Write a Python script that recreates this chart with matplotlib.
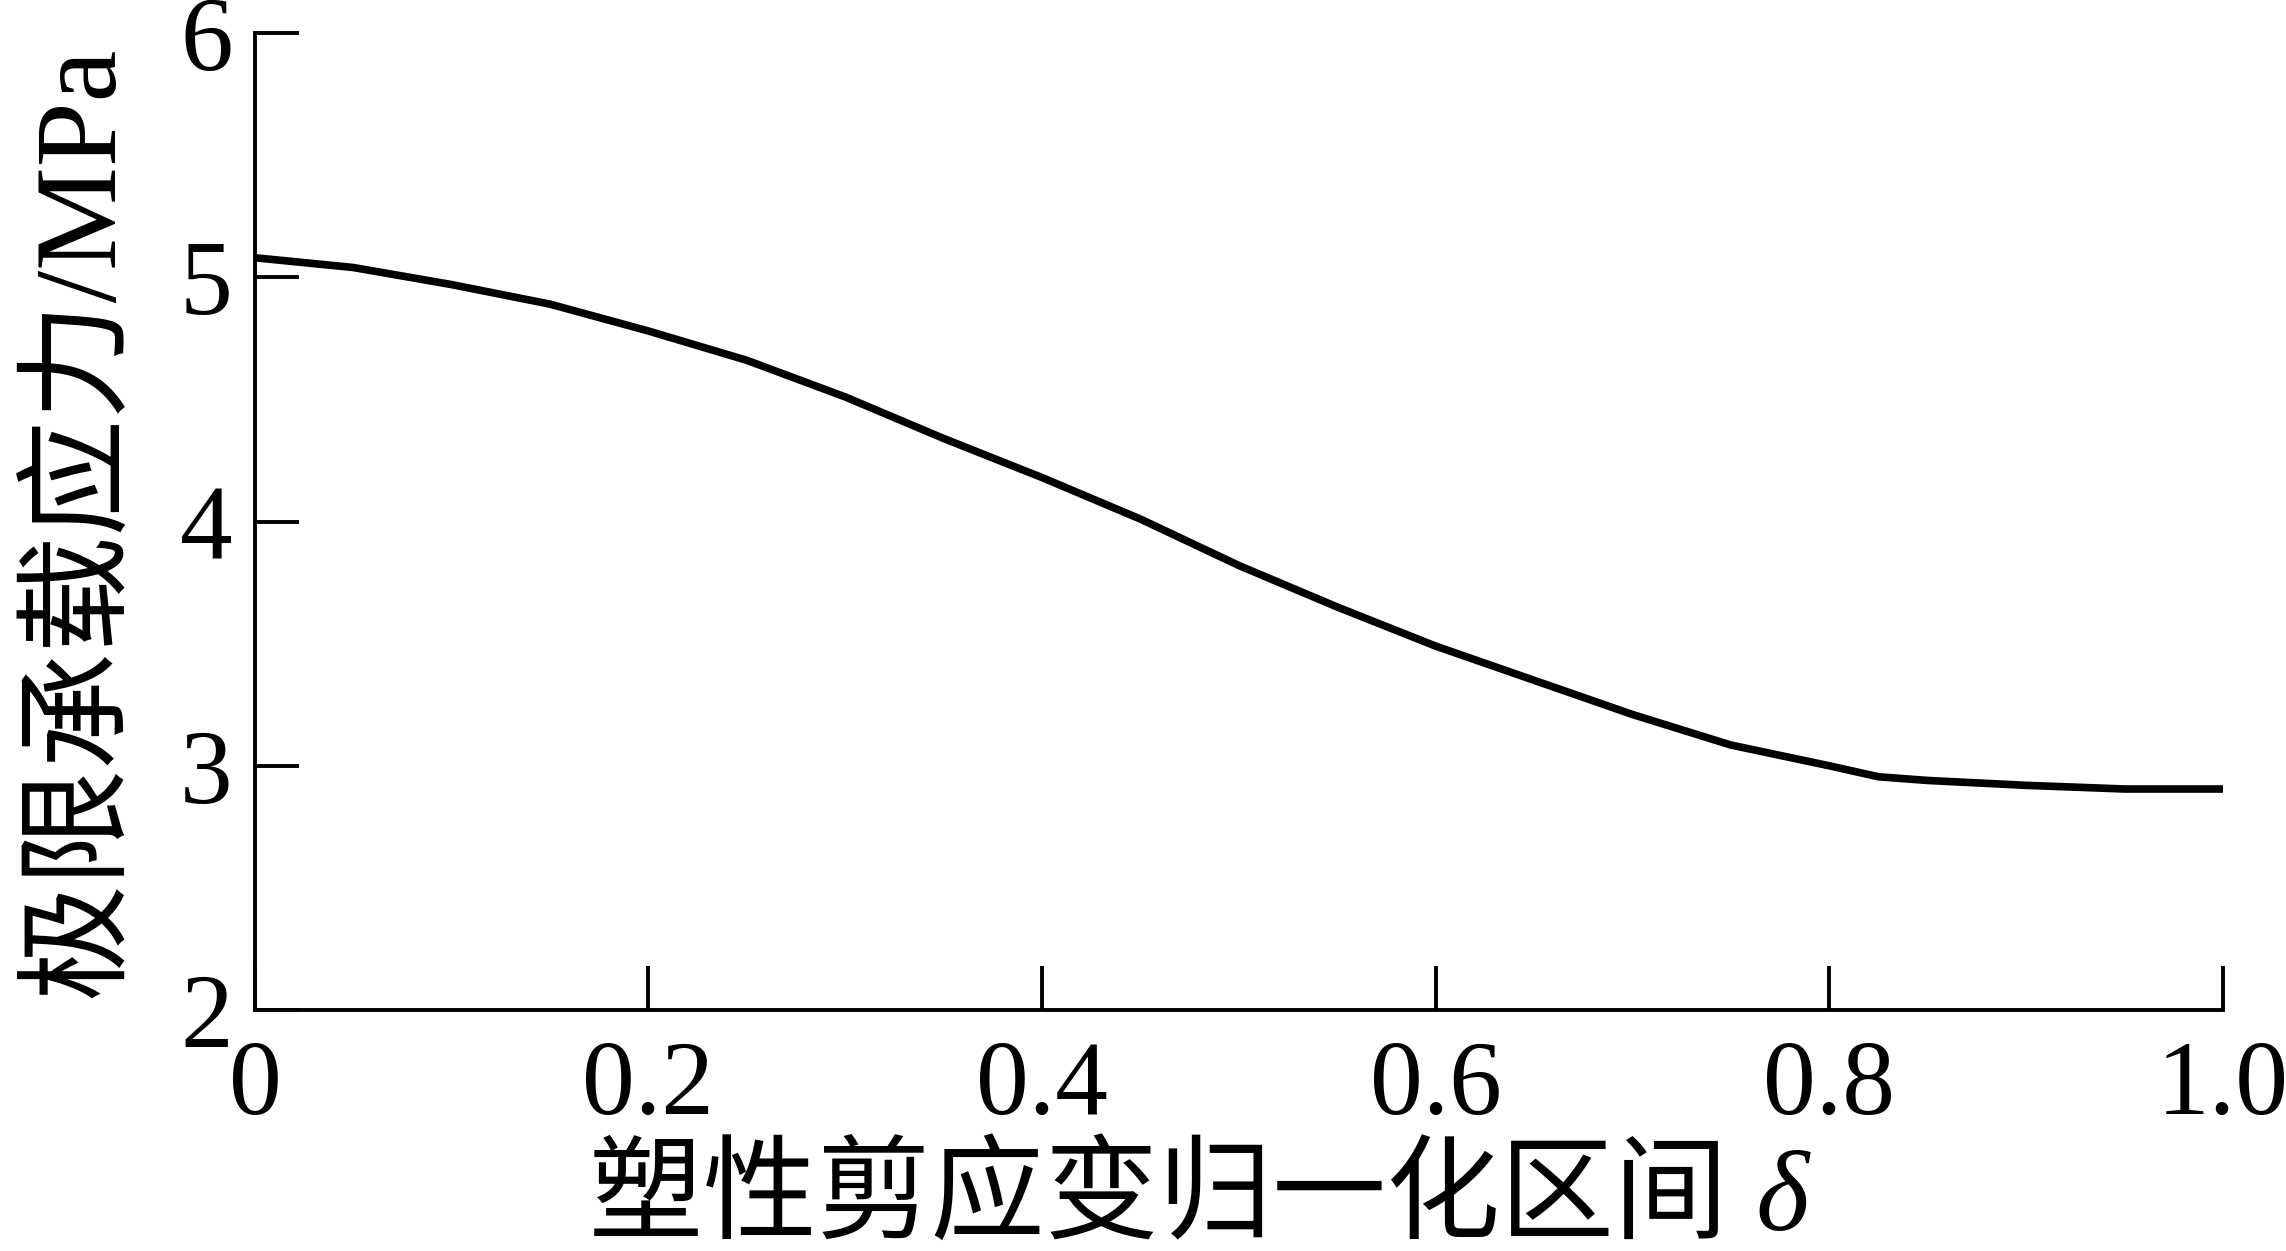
import matplotlib
matplotlib.use('Agg')
import matplotlib.pyplot as plt

plt.rcParams['font.family'] = ['Liberation Serif', 'Noto Sans CJK SC']
plt.rcParams['axes.unicode_minus'] = False

# 塑性剪应变归一化区间 δ vs 极限承载应力
delta = [0, 0.05, 0.10, 0.15, 0.20, 0.25, 0.30, 0.35, 0.40, 0.45, 0.50,
         0.55, 0.60, 0.65, 0.70, 0.75, 0.80, 0.825, 0.85, 0.90, 0.95, 1.0]
stress = [5.08, 5.04, 4.97, 4.89, 4.78, 4.66, 4.51, 4.34, 4.18, 4.01, 3.82,
          3.65, 3.49, 3.35, 3.21, 3.085, 3.00, 2.955, 2.94, 2.92, 2.905, 2.905]

xticks = [0, 0.2, 0.4, 0.6, 0.8, 1.0]
xticklabels = ['0', '0.2', '0.4', '0.6', '0.8', '1.0']
yticks = [2, 3, 4, 5, 6]

fig = plt.figure(figsize=(22.86, 12.51), dpi=100)
ax = fig.add_axes([0.1115, 0.1926, 0.8609, 0.781])

ax.plot(delta, stress, '-', color='black', lw=5.5, solid_joinstyle='miter')

ax.set_xlim(0, 1.0)
ax.set_ylim(2, 6)
ax.set_xticks(xticks)
ax.set_xticklabels(xticklabels)
ax.set_yticks(yticks)

for s in ['top', 'right']:
    ax.spines[s].set_visible(False)
for s in ['left', 'bottom']:
    ax.spines[s].set_linewidth(2.8)
ax.tick_params(direction='in', length=32, width=2.8, labelsize=76, pad=16)
ax.tick_params(axis='x', pad=22)

ax.set_xlabel('塑性剪应变归一化区间 δ', fontsize=82, fontstyle='italic')
ax.xaxis.set_label_coords(0.48, -0.14)
ax.set_ylabel('极限承载应力/MPa', fontsize=84, labelpad=30)

fig.savefig('out.png', dpi=100)
